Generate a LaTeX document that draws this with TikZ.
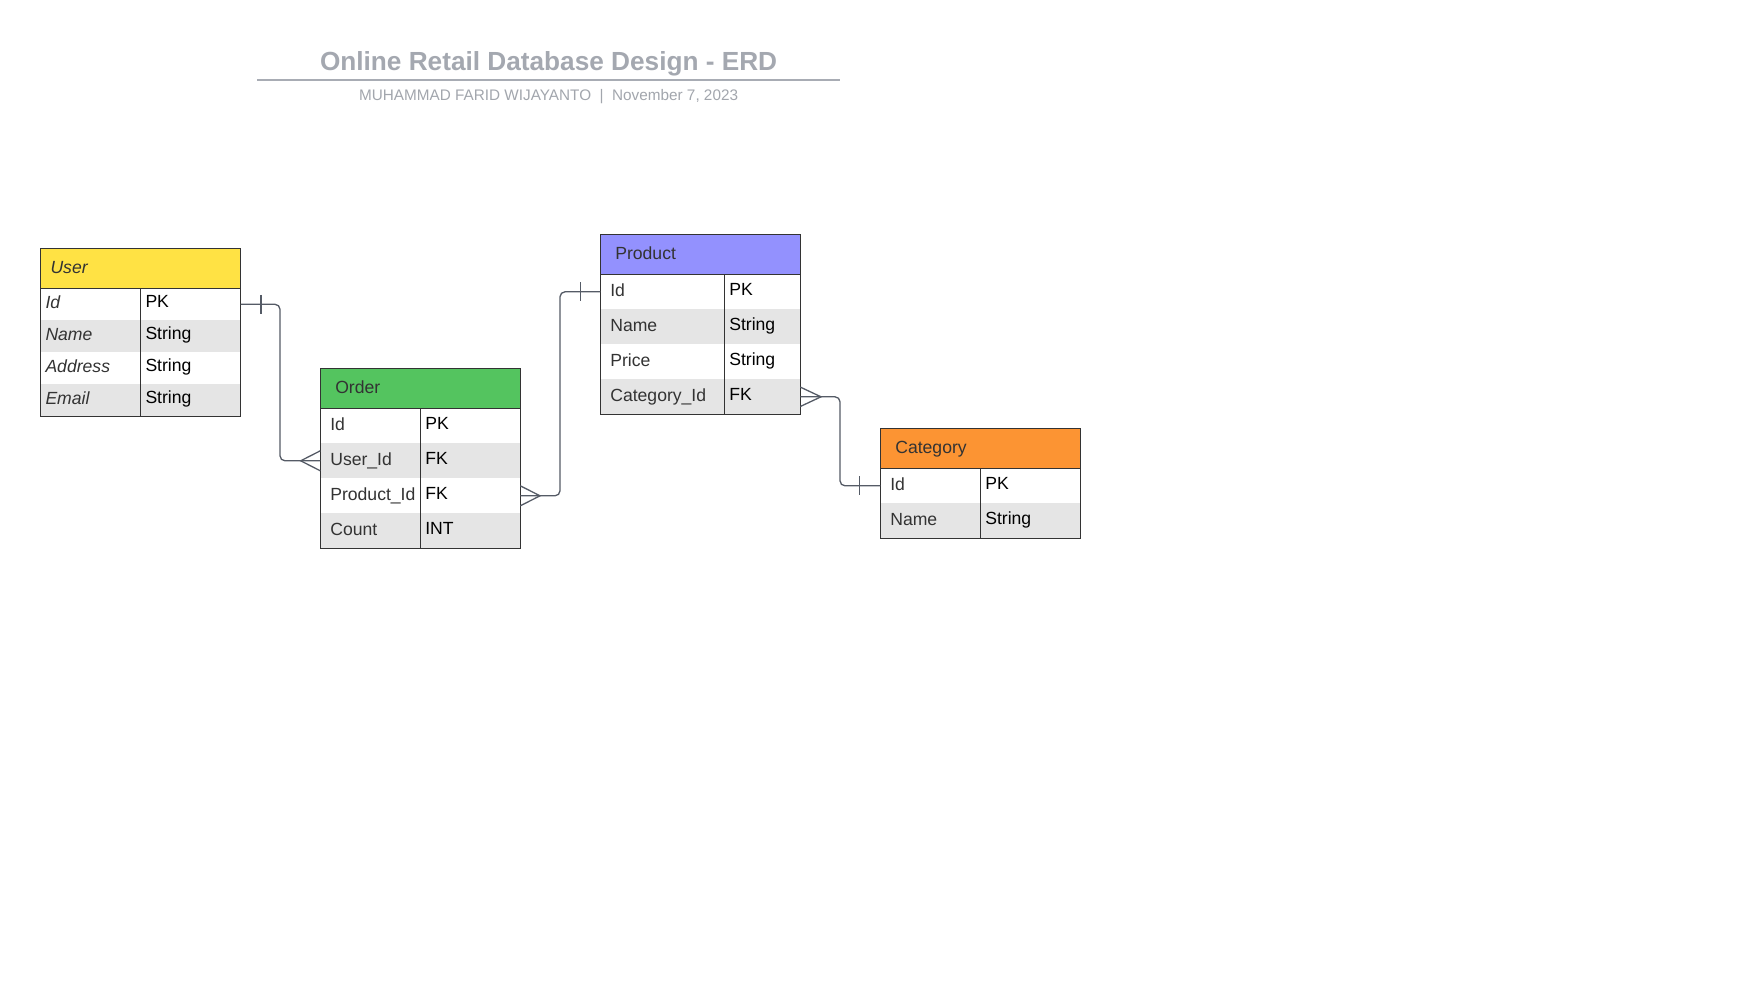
\documentclass[tikz,border=0pt]{standalone}
\usepackage{fontspec}
\setmainfont{Liberation Sans}
\definecolor{titlegray}{HTML}{A4A8B0}
\definecolor{subgray}{HTML}{A2A6AD}
\definecolor{rulegray}{HTML}{A8ACB4}
\definecolor{txtgray}{HTML}{333333}
\definecolor{rowgray}{HTML}{E5E5E5}
\definecolor{bordercol}{HTML}{333333}
\definecolor{conncol}{HTML}{555B66}
\definecolor{userfill}{HTML}{FFE244}
\definecolor{orderfill}{HTML}{54C45F}
\definecolor{productfill}{HTML}{9391FE}
\definecolor{categoryfill}{HTML}{FC9433}
\newcommand\fieldfont{\fontsize{17.6}{20}\selectfont}
\begin{document}
\begin{tikzpicture}[x=1pt,y=-1pt,
  every node/.style={outer sep=0pt},
  cellbase/.style={anchor=north west, inner ysep=0pt, align=left, font=\fieldfont, text height=12.6pt},
  namecell/.style={cellbase, text=txtgray, text depth=4.6pt},
  typecell/.style={cellbase, text=black, text depth=7.2pt},
  hdr/.style={anchor=north west, inner ysep=0pt, minimum height=40pt, align=left, font=\fieldfont, text=txtgray, text height=15.6pt, text depth=5.6pt},
  urow/.style={minimum height=32pt},
  row/.style={minimum height=35pt, text height=14.6pt},
  wcol/.style={text width=90pt, inner xsep=5pt},
  ncol/.style={text width=80pt, inner xsep=10pt},
  tcol/.style={text width=90pt, inner xsep=5pt},
  pncol/.style={text width=104pt, inner xsep=10pt},
  ptcol/.style={text width=66pt, inner xsep=5pt},
  odd/.style={fill=white},
  even/.style={fill=rowgray},
  border/.style={draw=bordercol, line width=1.4pt},
  conn/.style={draw=conncol, line width=1.3pt},
  roundbend/.style={rounded corners=5pt}
]
\useasboundingbox[fill=white] (0,0) rectangle (1740,988);

% Title
\node[anchor=base, font=\bfseries\fontsize{26.2}{30}\selectfont, text=titlegray, inner sep=0pt] (title) at (548.6,70.8) {Online Retail Database Design - ERD};
\draw[draw=rulegray, line width=1.5pt] (257.3,80) -- (840,80);
\node[anchor=base, font=\fontsize{15.3}{18}\selectfont, text=subgray, inner sep=0pt] (subtitle) at (548.6,100.2) {MUHAMMAD FARID WIJAYANTO\ \ |\ \ November 7, 2023};

% ---------- User ----------
\node[hdr, fill=userfill, text width=180pt, inner xsep=10pt] (user) at (40.5,248.3) {\itshape User};
\node[namecell, urow, wcol, odd] (u1n) at (user.south west) {\itshape Id};
\node[typecell, urow, tcol, odd] (u1t) at (u1n.north east) {PK};
\node[namecell, urow, wcol, even] (u2n) at (u1n.south west) {\itshape Name};
\node[typecell, urow, tcol, even] (u2t) at (u2n.north east) {String};
\node[namecell, urow, wcol, odd] (u3n) at (u2n.south west) {\itshape Address};
\node[typecell, urow, tcol, odd] (u3t) at (u3n.north east) {String};
\node[namecell, urow, wcol, even] (u4n) at (u3n.south west) {\itshape Email};
\node[typecell, urow, tcol, even] (u4t) at (u4n.north east) {String};
\draw[border] (user.north west) rectangle (u4t.south east);
\draw[border] (user.south west) -- (user.south east);
\draw[border] (u1t.north west) -- (u4t.south west);

% ---------- Order ----------
\node[hdr, fill=orderfill, text width=170pt, inner xsep=15pt] (order) at (320.3,368.3) {Order};
\node[namecell, row, ncol, odd] (o1n) at (order.south west) {Id};
\node[typecell, row, tcol, odd] (o1t) at (o1n.north east) {PK};
\node[namecell, row, ncol, even] (o2n) at (o1n.south west) {User\_Id};
\node[typecell, row, tcol, even] (o2t) at (o2n.north east) {FK};
\node[namecell, row, ncol, odd] (o3n) at (o2n.south west) {Product\_Id};
\node[typecell, row, tcol, odd] (o3t) at (o3n.north east) {FK};
\node[namecell, row, ncol, even] (o4n) at (o3n.south west) {Count};
\node[typecell, row, tcol, even] (o4t) at (o4n.north east) {INT};
\draw[border] (order.north west) rectangle (o4t.south east);
\draw[border] (order.south west) -- (order.south east);
\draw[border] (o1t.north west) -- (o4t.south west);

% ---------- Product ----------
\node[hdr, fill=productfill, text width=170pt, inner xsep=15pt] (product) at (600.3,234.3) {Product};
\node[namecell, row, pncol, odd] (p1n) at (product.south west) {Id};
\node[typecell, row, ptcol, odd] (p1t) at (p1n.north east) {PK};
\node[namecell, row, pncol, even] (p2n) at (p1n.south west) {Name};
\node[typecell, row, ptcol, even] (p2t) at (p2n.north east) {String};
\node[namecell, row, pncol, odd] (p3n) at (p2n.south west) {Price};
\node[typecell, row, ptcol, odd] (p3t) at (p3n.north east) {String};
\node[namecell, row, pncol, even] (p4n) at (p3n.south west) {Category\_Id};
\node[typecell, row, ptcol, even] (p4t) at (p4n.north east) {FK};
\draw[border] (product.north west) rectangle (p4t.south east);
\draw[border] (product.south west) -- (product.south east);
\draw[border] (p1t.north west) -- (p4t.south west);

% ---------- Category ----------
\node[hdr, fill=categoryfill, text width=170pt, inner xsep=15pt] (category) at (880.3,428.3) {Category};
\node[namecell, row, ncol, odd] (c1n) at (category.south west) {Id};
\node[typecell, row, tcol, odd] (c1t) at (c1n.north east) {PK};
\node[namecell, row, ncol, even] (c2n) at (c1n.south west) {Name};
\node[typecell, row, tcol, even] (c2t) at (c2n.north east) {String};
\draw[border] (category.north west) rectangle (c2t.south east);
\draw[border] (category.south west) -- (category.south east);
\draw[border] (c1t.north west) -- (c2t.south west);

% ---------- Connectors ----------
% User.Id (one) -> Order.User_Id (many)
\draw[conn, roundbend] (u1t.east) -- ++(39.5,0) |- (o2n.west);
\draw[conn] ([xshift=20.6pt,yshift=9.5pt]u1t.east) -- ([xshift=20.6pt,yshift=-9.5pt]u1t.east);
\draw[conn] ([yshift=10pt]o2n.west) -- ([xshift=-19.6pt]o2n.west) -- ([yshift=-10pt]o2n.west);

% Order.Product_Id (many) -> Product.Id (one)
\draw[conn, roundbend] (o3t.east) -- ++(39.7,0) |- (p1n.west);
\draw[conn] ([yshift=10pt]o3t.east) -- ([xshift=19.7pt]o3t.east) -- ([yshift=-10pt]o3t.east);
\draw[conn] ([xshift=-20pt,yshift=9.5pt]p1n.west) -- ([xshift=-20pt,yshift=-9.5pt]p1n.west);

% Product.Category_Id (many) -> Category.Id (one)
\draw[conn, roundbend] (p4t.east) -- ++(39.7,0) |- (c1n.west);
\draw[conn] ([yshift=9.7pt]p4t.east) -- ([xshift=20.7pt]p4t.east) -- ([yshift=-9.7pt]p4t.east);
\draw[conn] ([xshift=-21pt,yshift=9.5pt]c1n.west) -- ([xshift=-21pt,yshift=-9.5pt]c1n.west);
\end{tikzpicture}
\end{document}
